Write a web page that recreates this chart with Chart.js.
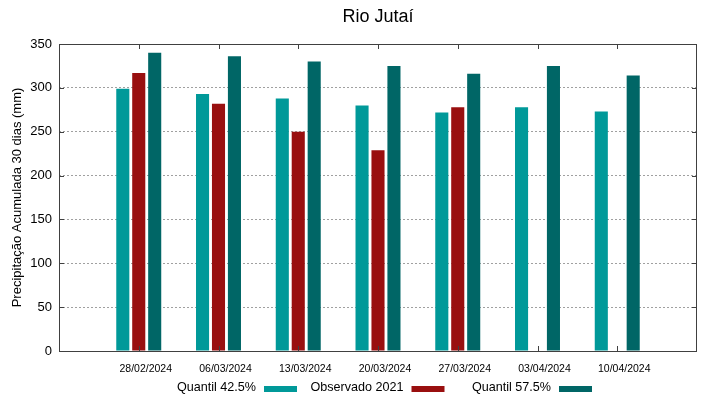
<!DOCTYPE html>
<html>
<head>
<meta charset="utf-8">
<script src="https://cdn.jsdelivr.net/npm/chart.js@4"></script>
<style>
  html, body { margin: 0; padding: 0; background: #fff; }
  #wrap { width: 719px; height: 399px; position: relative; }
</style>
</head>
<body>
<div id="wrap"><canvas id="chart" width="719" height="399"></canvas></div>
<script>
const dates = ['28/02/2024', '06/03/2024', '13/03/2024', '20/03/2024', '27/03/2024', '03/04/2024', '10/04/2024'];
const quantil425 = [299, 293, 288, 280, 272, 278, 273];
const observado2021 = [317, 282, 250, 229, 278, null, null];
const quantil575 = [340, 336, 330, 325, 316, 325, 314];
const yTicks = [0, 50, 100, 150, 200, 250, 300, 350];

const FONT = '"Liberation Sans", Arial, sans-serif';

// empty slots at both ends so the dates sit one step in from the frame
const labels = [''].concat(dates, ['']);
const pad = arr => [null].concat(arr, [null]);

const seriesInfo = [
    { label: 'Quantil 42.5%', data: quantil425, color: '#009999' },
    { label: 'Observado 2021', data: observado2021, color: '#990f0f' },
    { label: 'Quantil 57.5%', data: quantil575, color: '#006666' }
];

// title, frame, inward ticks and the gnuplot-like key
const decorPlugin = {
    id: 'decor',
    afterDraw(chart) {
        const c = chart.ctx;
        const a = chart.chartArea;
        const xs = chart.scales.x, ys = chart.scales.y;
        c.save();

        c.strokeStyle = '#404040';
        c.lineWidth = 1;
        c.strokeRect(a.left + 0.5, a.top + 0.5, a.right - a.left - 1, a.bottom - a.top);

        c.beginPath();
        for (let i = 1; i < labels.length - 1; i++) {
            const x = Math.round(xs.getPixelForTick(i)) + 0.5;
            c.moveTo(x, a.top); c.lineTo(x, a.top + 5);
            c.moveTo(x, a.bottom); c.lineTo(x, a.bottom - 5);
        }
        yTicks.forEach(v => {
            const y = Math.round(ys.getPixelForValue(v)) + 0.5;
            c.moveTo(a.left, y); c.lineTo(a.left + 5, y);
            c.moveTo(a.right, y); c.lineTo(a.right - 5, y);
        });
        c.stroke();

        c.fillStyle = '#000';
        c.font = '18px ' + FONT;
        c.textAlign = 'center';
        c.textBaseline = 'middle';
        c.fillText('Rio Jutaí', (a.left + a.right) / 2, 17);

        c.font = '12.6px ' + FONT;
        c.textAlign = 'right';
        const y = 388;
        seriesInfo.forEach((s, i) => {
            const sx = a.left + 205 + i * 147.5;
            c.fillStyle = '#000';
            c.fillText(s.label, sx - 8, y);
            c.fillStyle = s.color;
            c.fillRect(sx, y - 2, 33, 6);
        });
        c.restore();
    }
};

new Chart(document.getElementById('chart'), {
    type: 'bar',
    data: {
        labels: labels,
        datasets: seriesInfo.map(s => ({
            label: s.label,
            data: pad(s.data),
            backgroundColor: s.color,
            borderColor: s.color,
            borderWidth: 0,
            categoryPercentage: 0.6,
            barPercentage: 0.82
        }))
    },
    options: {
        responsive: false,
        animation: false,
        layout: { padding: { top: 44, right: 22, left: 0, bottom: 0 } },
        plugins: {
            legend: { display: false },
            title: { display: false },
            tooltip: { enabled: false }
        },
        scales: {
            x: {
                offset: false,
                grid: { display: false, drawTicks: false },
                border: { display: false },
                ticks: {
                    autoSkip: false,
                    maxRotation: 0,
                    padding: 12,
                    labelOffset: 7,
                    color: '#000',
                    font: { family: FONT, size: 10.5 }
                },
                afterFit(scale) { scale.height = 48; }
            },
            y: {
                min: 0,
                max: 350,
                afterBuildTicks(scale) { scale.ticks = yTicks.map(v => ({ value: v })); },
                grid: {
                    color: ctx => (ctx.tick && (ctx.tick.value === 0 || ctx.tick.value === 350)) ? 'rgba(0,0,0,0)' : '#a0a0a0',
                    lineWidth: 1,
                    drawTicks: false
                },
                border: { display: false, dash: [2, 2] },
                ticks: {
                    padding: 7,
                    color: '#000',
                    font: { family: FONT, size: 13 }
                },
                title: {
                    display: true,
                    text: 'Precipitação Acumulada 30 dias (mm)',
                    color: '#000',
                    padding: { top: 10, bottom: 0 },
                    font: { family: FONT, size: 13 }
                },
                afterFit(scale) { scale.width = 59; }
            }
        }
    },
    plugins: [decorPlugin]
});
</script>
</body>
</html>
